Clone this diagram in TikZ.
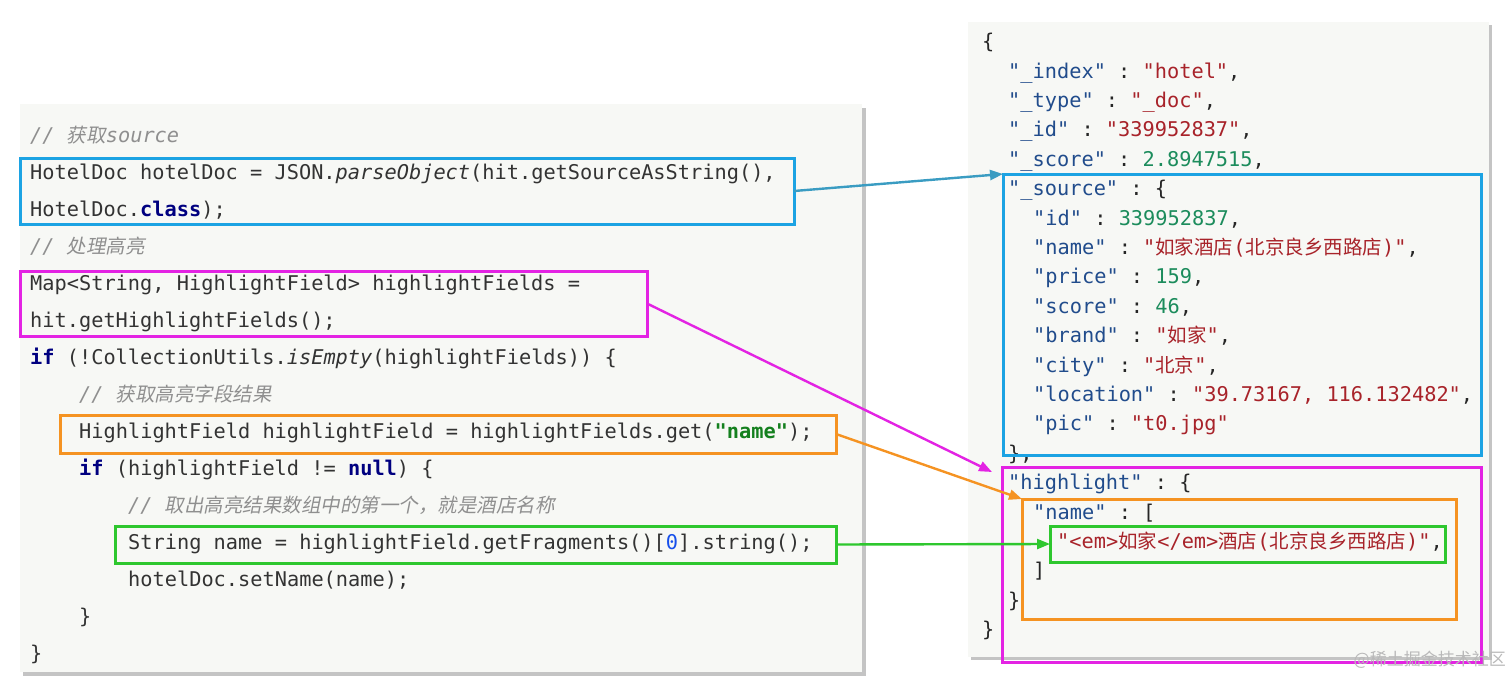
\documentclass[tikz,border=0pt]{standalone}
\usepackage{fontspec}
\setmonofont{DejaVu Sans Mono}
\newfontfamily\cjkfont{Noto Sans CJK SC}
\newfontfamily\cjkslant[FakeSlant=0.2]{Noto Sans CJK SC}
\usetikzlibrary{arrows.meta}

\definecolor{panelbg}{HTML}{F7F8F5}
\definecolor{panelshadow}{HTML}{C4C4C4}
\definecolor{codetext}{HTML}{333333}
\definecolor{commentgray}{HTML}{8F8F8F}
\definecolor{kwnavy}{HTML}{000080}
\definecolor{strgreen}{HTML}{14801E}
\definecolor{numblue}{HTML}{1750EB}
\definecolor{jsonkey}{HTML}{214C8C}
\definecolor{jsonstr}{HTML}{A8232A}
\definecolor{jsonnum}{HTML}{1C8C5C}
\definecolor{boxblue}{HTML}{1CA3E3}
\definecolor{arrowblue}{HTML}{3A9CC2}
\definecolor{boxmagenta}{HTML}{E323E3}
\definecolor{boxorange}{HTML}{F59322}
\definecolor{boxgreen}{HTML}{2EC72E}

\newcommand{\kw}[1]{\textcolor{kwnavy}{\bfseries #1}}
\newcommand{\zh}[1]{{\cjkfont\fontsize{19.5}{24}\selectfont #1}}
\newcommand{\zhit}[1]{{\cjkslant\fontsize{19.5}{24}\selectfont #1}}
\newcommand{\cmt}[1]{\textcolor{commentgray}{\itshape #1}}
\newcommand{\jkey}[1]{\textcolor{jsonkey}{"#1"}}
\newcommand{\jstr}[1]{\textcolor{jsonstr}{"#1"}}
\newcommand{\jnum}[1]{\textcolor{jsonnum}{#1}}

\tikzset{
  code/.style={anchor=mid west, yshift=-5.5pt, inner sep=0pt, font=\ttfamily\fontsize{20.3}{24}\selectfont, text=codetext},
  json/.style={code, text=black!85},
  hlbox/.style={draw, line width=3pt, anchor=north west, inner sep=0pt, outer sep=0pt},
  link/.style={line width=2.4pt, -{Triangle[length=13pt,width=10pt]}},
}

\begin{document}
\begin{tikzpicture}[x=1pt,y=1pt]
    \useasboundingbox (0,0) rectangle (1512,-690);
    \fill [panelshadow] (23,-108) rectangle (866,-676);
    \fill [panelbg] (20,-104) rectangle (862,-672);
    \fill [panelshadow] (971,-25) rectangle (1492,-660);
    \fill [panelbg] (968,-22) rectangle (1489,-657);

    \node [code] (c0) at (30,-135) {\cmt{// \zhit{获取}source}};
    \node [code] (c1) at (30,-172) {HotelDoc hotelDoc = JSON.{\itshape parseObject}(hit.getSourceAsString(),};
    \node [code] (c2) at (30,-209) {HotelDoc.\kw{class});};
    \node [code] (c3) at (30,-246) {\cmt{// \zhit{处理高亮}}};
    \node [code] (c4) at (30,-283) {Map<String, HighlightField> highlightFields =};
    \node [code] (c5) at (30,-320) {hit.getHighlightFields();};
    \node [code] (c6) at (30,-357) {\kw{if} (!CollectionUtils.{\itshape isEmpty}(highlightFields)) \{};
    \node [code] (c7) at (79,-394) {\cmt{// \zhit{获取高亮字段结果}}};
    \node [code] (c8) at (79,-431) {HighlightField highlightField = highlightFields.get(\textcolor{strgreen}{\bfseries "name"});};
    \node [code] (c9) at (79,-468) {\kw{if} (highlightField != \kw{null}) \{};
    \node [code] (c10) at (128,-505) {\cmt{// \zhit{取出高亮结果数组中的第一个，就是酒店名称}}};
    \node [code] (c11) at (128,-542) {String name = highlightField.getFragments()[\textcolor{numblue}{0}].string();};
    \node [code] (c12) at (128,-579) {hotelDoc.setName(name);};
    \node [code] (c13) at (79,-616) {\}};
    \node [code] (c14) at (30,-653) {\}};

    \node [json] (j0) at (982,-41) {\{};
    \node [json] (j1) at (1008,-70.4) {\jkey{\_index} : \jstr{hotel},};
    \node [json] (j2) at (1008,-99.8) {\jkey{\_type} : \jstr{\_doc},};
    \node [json] (j3) at (1008,-129.2) {\jkey{\_id} : \jstr{339952837},};
    \node [json] (j4) at (1008,-158.6) {\jkey{\_score} : \jnum{2.8947515},};
    \node [json] (j5) at (1008,-188) {\jkey{\_source} : \{};
    \node [json] (j6) at (1033,-217.4) {\jkey{id} : \jnum{339952837},};
    \node [json] (j7) at (1033,-246.8) {\jkey{name} : \jstr{\zh{如家酒店}(\zh{北京良乡西路店})},};
    \node [json] (j8) at (1033,-276.2) {\jkey{price} : \jnum{159},};
    \node [json] (j9) at (1033,-305.6) {\jkey{score} : \jnum{46},};
    \node [json] (j10) at (1033,-335) {\jkey{brand} : \jstr{\zh{如家}},};
    \node [json] (j11) at (1033,-364.4) {\jkey{city} : \jstr{\zh{北京}},};
    \node [json] (j12) at (1033,-393.8) {\jkey{location} : \jstr{39.73167, 116.132482},};
    \node [json] (j13) at (1033,-423.2) {\jkey{pic} : \jstr{t0.jpg}};
    \node [json] (j14) at (1008,-452.6) {\},};
    \node [json] (j15) at (1008,-482) {\jkey{highlight} : \{};
    \node [json] (j16) at (1033,-511.4) {\jkey{name} : [};
    \node [json] (j17) at (1057,-540.8) {\jstr{<em>\zh{如家}</em>\zh{酒店}(\zh{北京良乡西路店})},};
    \node [json] (j18) at (1033,-570.2) {]};
    \node [json] (j19) at (1008,-599.6) {\}};
    \node [json] (j20) at (982,-629) {\}};

    \node [hlbox, draw=boxblue, minimum width=774, minimum height=66] (srcCode) at (20,-158) {};
    \node [hlbox, draw=boxmagenta, minimum width=627, minimum height=65] (hlCode) at (20,-271) {};
    \node [hlbox, draw=boxorange, minimum width=776, minimum height=38] (fieldCode) at (60,-415) {};
    \node [hlbox, draw=boxgreen, minimum width=721, minimum height=37] (fragCode) at (115,-526) {};
    \node [hlbox, draw=boxblue, minimum width=478, minimum height=281] (srcJson) at (1003,-174) {};
    \node [hlbox, draw=boxmagenta, minimum width=479, minimum height=195] (hlJson) at (1002,-467) {};
    \node [hlbox, draw=boxorange, minimum width=434, minimum height=120] (fieldJson) at (1022,-499) {};
    \node [hlbox, draw=boxgreen, minimum width=395, minimum height=36] (fragJson) at (1050,-526) {};

    \draw [link, arrowblue] (srcCode.east) -- (srcJson.north west);
    \draw [link, boxmagenta] (hlCode.east) -- ([xshift=-10, yshift=-5]hlJson.north west);
    \draw [link, boxorange] (fieldCode.east) -- (fieldJson.north west);
    \draw [link, boxgreen] (fragCode.east) -- (fragJson.west);

    \node [anchor=east, inner sep=0pt, font=\cjkfont\fontsize{17}{20}\selectfont, text=gray!55] (mark) at (1506,-660) {@稀土掘金技术社区};
\end{tikzpicture}
\end{document}
